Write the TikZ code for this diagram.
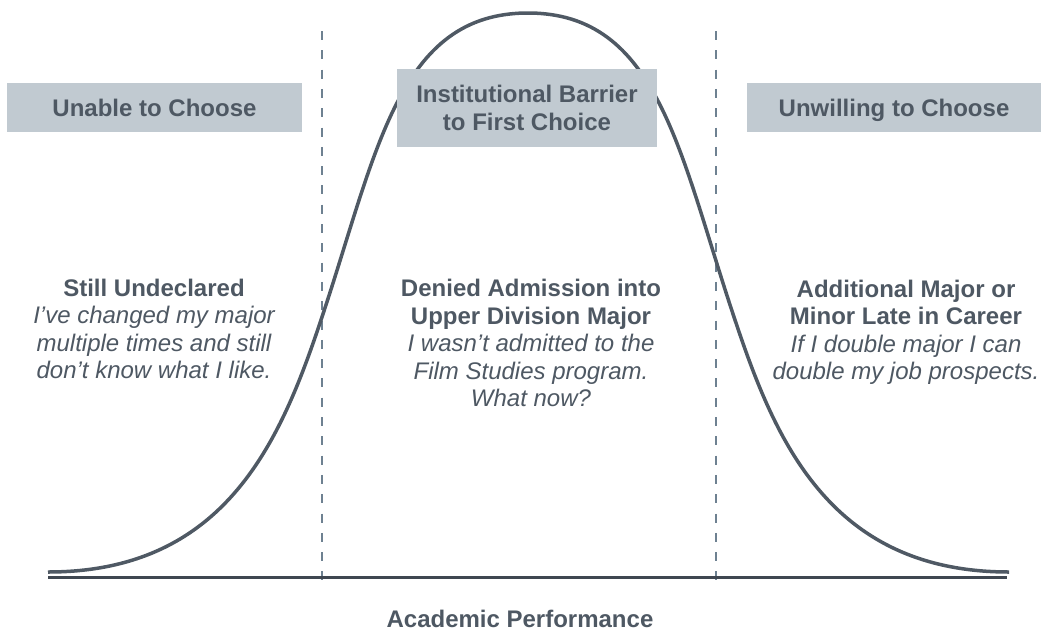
\documentclass[tikz,border=0pt]{standalone}
\usepackage{fontspec}
\setmainfont{Liberation Sans}
\definecolor{txtc}{HTML}{4E5863}
\definecolor{boxc}{HTML}{C1CAD1}
\definecolor{curvec}{HTML}{4F5964}
\definecolor{dashc}{HTML}{6E8191}
\definecolor{axisc}{HTML}{3F4751}
\tikzset{
  px/.style={x=1pt,y=-1pt},
  label box/.style={fill=boxc, inner sep=0pt, text=txtc, align=center,
    font=\fontsize{24}{28}\selectfont\bfseries},
  block/.style={inner sep=0pt, text=txtc, align=center, anchor=north,
    font=\fontsize{24}{27.6}\selectfont},
  divider/.style={draw=dashc, line width=2.6pt, dash pattern=on 9pt off 10.3pt},
  bell/.style={draw=curvec, line width=3.5pt},
  axisline/.style={draw=axisc, line width=2.5pt}
}
\begin{document}
\begin{tikzpicture}[px]
\useasboundingbox (0,0) rectangle (1042,630);
% dividers
\coordinate (d1t) at (322,31); \coordinate (d1b) at (322,583);
\coordinate (d2t) at (716,31); \coordinate (d2b) at (716,583);
\draw[divider] (d1t) -- (d1b);
\draw[divider] (d2t) -- (d2b);
% axis
\coordinate (axl) at (48,577.5); \coordinate (axr) at (1007,577.5);
\draw[axisline] (axl) -- (axr);
% bell curve
\coordinate (bl) at (48,572);
\coordinate (il) at (322,317);
\coordinate (pk) at (528,13);
\coordinate (ir) at (734,317);
\coordinate (br) at (1009,572);
\draw[bell] (bl) .. controls (228,572) and (282,437) .. (il)
  .. controls (377,152) and (398,13) .. (pk)
  .. controls (658,13) and (679,152) .. (ir)
  .. controls (774,437) and (828,572) .. (br);
% top boxes
\node[label box, minimum width=295pt, minimum height=49pt, text height=17.5pt, text depth=0pt]
  (unable) at (154.5,107.5) {Unable to Choose};
\node[label box, minimum width=260pt, minimum height=78pt]
  (barrier) at (527,108) {Institutional Barrier\\to First Choice};
\node[label box, minimum width=294pt, minimum height=49pt, text height=17.5pt, text depth=0pt]
  (unwilling) at (894,107.5) {Unwilling to Choose};
% text blocks
\node[block] (undeclared) at (154,278.6)
  {\textbf{Still Undeclared}\\\itshape I’ve changed my major\\\itshape multiple times and still\\\itshape don’t know what I like.};
\node[block] (denied) at (531,279)
  {\textbf{Denied Admission into}\\\textbf{Upper Division Major}\\\itshape I wasn’t admitted to the\\\itshape Film Studies program.\\\itshape What now?};
\node[block] (additional) at (906,279.6)
  {\textbf{Additional Major or}\\\textbf{Minor Late in Career}\\\itshape If I double major I can\\\itshape double my job prospects.};
% axis label
\node[inner sep=0pt, text=txtc, anchor=base, font=\fontsize{24}{28}\selectfont\bfseries]
  (perf) at (520,627) {Academic Performance};
\end{tikzpicture}
\end{document}
